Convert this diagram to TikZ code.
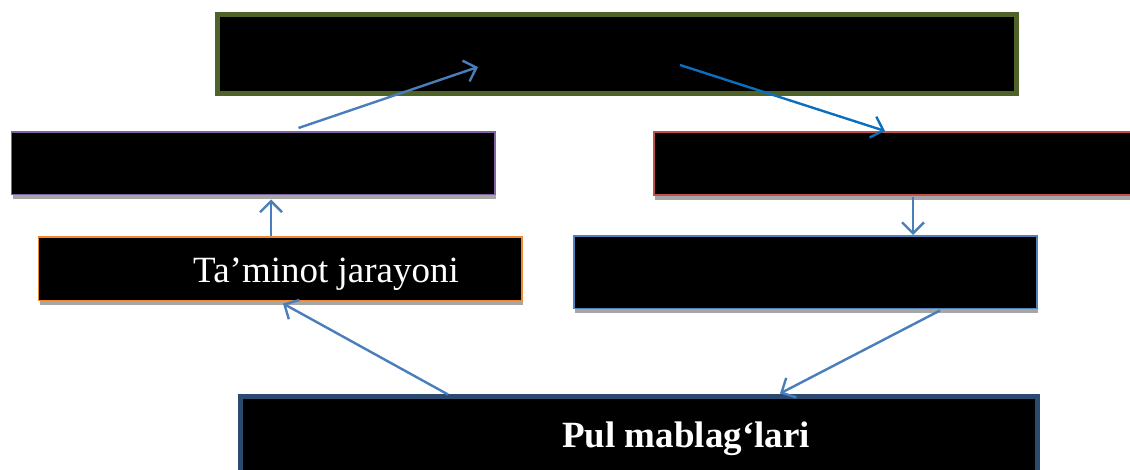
\documentclass[tikz,border=0pt]{standalone}
\usepackage{fontspec}
\setmainfont{Liberation Serif}
\usetikzlibrary{calc,arrows.meta,shadows}

\definecolor{olivebd}{HTML}{4F6228}
\definecolor{purplebd}{HTML}{8064A2}
\definecolor{redbd}{HTML}{C0504D}
\definecolor{orangebd}{HTML}{F08A2E}
\definecolor{bluebd}{HTML}{4F81BD}
\definecolor{navybd}{HTML}{2C4A6E}
\definecolor{arrowblue}{HTML}{4A7EBB}
\definecolor{arrowdeep}{HTML}{0B6FC0}
\definecolor{shadowgray}{HTML}{A6A6A6}

\tikzset{
  box/.style={rectangle, fill=black, anchor=north west, inner sep=0pt, outer sep=0pt},
  thinbox/.style={box, line width=1.5pt,
    general shadow={fill=shadowgray, shadow xshift=1pt, shadow yshift=-5pt}},
  thickbox/.style={box, line width=5pt},
  flow/.style={draw=arrowblue, line width=2.4pt,
    -{Straight Barb[length=11pt,width=22pt,line width=2.4pt]}},
  label/.style={text=white, anchor=base west, inner sep=0pt, font=\fontsize{37}{40}\selectfont}
}

\begin{document}
\begin{tikzpicture}[x=1pt,y=-1pt]
\useasboundingbox (0,0) rectangle (1130,470);
\begin{scope}
\clip (0,0) rectangle (1130,470);

% boxes
\node[thickbox, draw=olivebd, minimum width=799pt, minimum height=79pt] (top) at (217.5,14.5) {};
\node[thinbox, draw=purplebd, minimum width=483.5pt, minimum height=62.5pt] (purple) at (11.5,132) {};
\node[thinbox, draw=redbd, minimum width=486pt, minimum height=63pt] (red) at (654,132) {};
\node[thinbox, draw=orangebd, minimum width=483.5pt, minimum height=63.5pt] (orange) at (38.5,237) {};
\node[thinbox, draw=bluebd, minimum width=463pt, minimum height=72.5pt] (bluebox) at (574,236) {};
\node[thickbox, draw=navybd, minimum width=797pt, minimum height=94pt] (bottom) at (240.5,396.5) {};

% labels
\node[label] (supply) at (193,283) {Ta’minot jarayoni};
\node[label, font=\fontsize{37}{40}\selectfont\bfseries] (money) at (562,447) {Pul mablag‘lari};

% connectors
\draw[flow] ($(purple.north west)+(287,-4)$) -- ($(top.north west)+(260.5,52.5)$);
\draw[flow, draw=arrowdeep] ($(top.north west)+(462.5,50.5)$) -- ($(red.north west)+(231,-1)$);
\draw[flow] ($(orange.north west)+(232.5,-1)$) -- ($(purple.south west)+(259.5,5)$);
\draw[flow] ($(red.south west)+(259,2)$) -- ($(bluebox.north west)+(339,-1)$);
\draw[flow] ($(bottom.north west)+(207.5,-2)$) -- ($(orange.south west)+(244.5,3)$);
\draw[flow] ($(bluebox.south west)+(366,2)$) -- ($(bottom.north west)+(539.5,-3)$);
\end{scope}
\end{tikzpicture}
\end{document}
